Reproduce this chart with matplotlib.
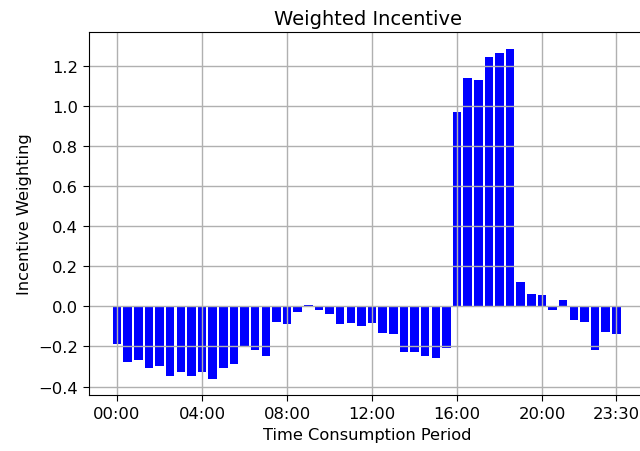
import matplotlib
matplotlib.use("Agg")
import matplotlib.pyplot as plt
from matplotlib.ticker import MultipleLocator
import numpy as np

# half-hour consumption periods
periods = [f"{h:02d}:{m:02d}" for h in range(24) for m in (0, 30)]

weights = [
    -0.19, -0.28, -0.27, -0.31, -0.30, -0.35, -0.33, -0.35,
    -0.33, -0.36, -0.31, -0.29, -0.20, -0.22, -0.25, -0.08,
    -0.09, -0.03, 0.004, -0.02, -0.04, -0.09, -0.085, -0.10,
    -0.085, -0.135, -0.14, -0.23, -0.23, -0.25, -0.26, -0.21,
    0.97, 1.14, 1.13, 1.245, 1.265, 1.285, 0.12, 0.06,
    0.055, -0.02, 0.03, -0.07, -0.08, -0.22, -0.13, -0.14,
]

tick_labels = ["00:00", "04:00", "08:00", "12:00", "16:00", "20:00", "23:30"]


def main():
    fig = plt.figure(figsize=(6.4, 4.52), dpi=100)
    ax = fig.add_axes([89 / 640, 56 / 452, 557 / 640, 363 / 452])

    x = np.arange(len(periods))
    ax.bar(x, weights, width=0.8, color="blue")

    ticks = [periods.index(t) for t in tick_labels]
    ax.set_xticks(ticks)
    ax.set_xticklabels(tick_labels, fontsize=11.8)
    ax.yaxis.set_major_locator(MultipleLocator(0.2))
    ax.tick_params(axis="y", labelsize=11.8)
    ax.tick_params(length=4.5)
    ax.set_xlim(-2.64, 49.79)

    ax.grid(True, color="#b0b0b0", linewidth=1.0)
    ax.set_title("Weighted Incentive", fontsize=14)
    ax.set_xlabel("Time Consumption Period", fontsize=11.7)
    ax.set_ylabel("Incentive Weighting", fontsize=11.7)

    fig.savefig("out.png", dpi=100)
    plt.close(fig)


if __name__ == "__main__":
    main()
